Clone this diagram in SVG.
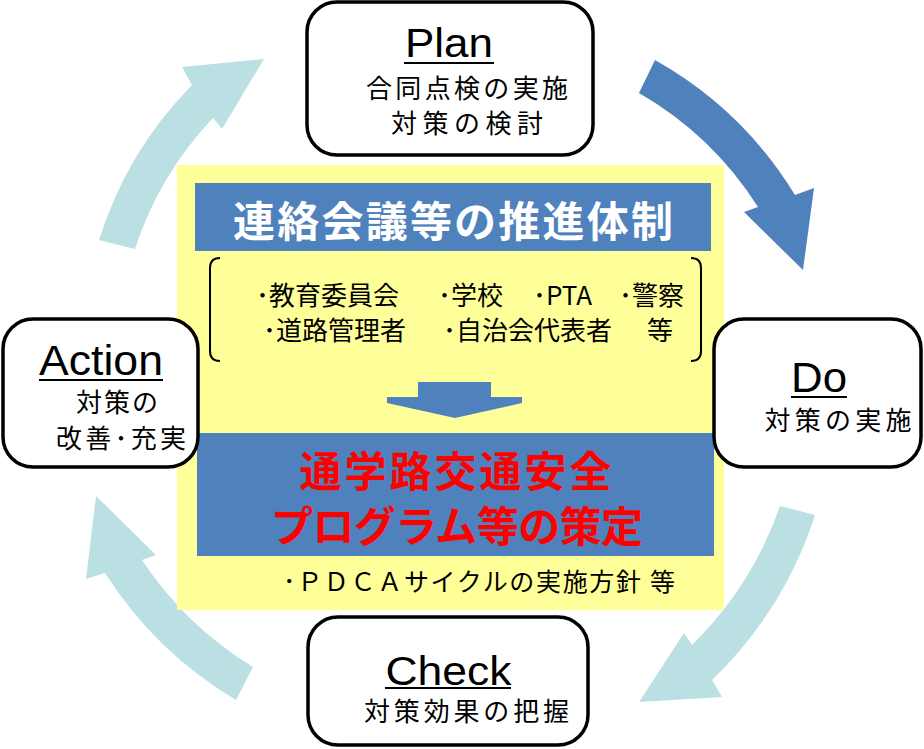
<svg xmlns="http://www.w3.org/2000/svg" width="924" height="749" viewBox="0 0 924 749">
<style>
.jp{font-family:"Noto Sans CJK JP","Noto Sans CJK SC",sans-serif;}
.en{font-family:"Liberation Sans",Arial,sans-serif;}
.box{fill:#ffffff;stroke:#000000;stroke-width:3.5;}
.ul{stroke:#000000;stroke-width:2;}
.lt{fill:#bbe0e3;}
.dk{fill:#4f81bd;}
</style>
<rect width="924" height="749" fill="#ffffff"/>
<g id="connectors">
<path class="dk" d="M655,60 A385,385 0 0 1 795,195 L814,188 L803,270 L744,212 L758,207 A345,345 0 0 0 639,93 Z"/>
<path class="lt" d="M815,515 A400,400 0 0 1 712,680 L722,697 L639,702 L684,633 L692,645 A360,360 0 0 0 780,506 Z"/>
<path class="lt" d="M236,700 A395,395 0 0 1 105,573 L86,579 L96,496 L156,555 L142,560 A355,355 0 0 0 253,667 Z"/>
<path class="lt" d="M99,240 A385,385 0 0 1 192,85 L182,67 L264,59 L222,129 L213,118 A345,345 0 0 0 135,249 Z"/>
</g>
<g id="center">
<rect x="177" y="165" width="547" height="445" fill="#ffff99"/>
<rect x="195" y="183" width="516" height="68" fill="#4f81bd"/>
<text class="jp" x="453" y="237" font-size="42" font-weight="bold" fill="#ffffff" text-anchor="middle" textLength="440">連絡会議等の推進体制</text>
<path d="M220,258 Q210,258 210,268 V351 Q210,361 220,361" fill="none" stroke="#000" stroke-width="2"/>
<path d="M691,258 Q701,258 701,268 V351 Q701,361 691,361" fill="none" stroke="#000" stroke-width="2"/>
<text class="jp" y="305" font-size="26" fill="#000"><tspan x="256">･教育委員会</tspan><tspan x="438">･学校</tspan><tspan x="533">･PTA</tspan><tspan x="619">･警察</tspan></text>
<text class="jp" y="340" font-size="26" fill="#000"><tspan x="263">･道路管理者</tspan><tspan x="443">･自治会代表者</tspan><tspan x="647">等</tspan></text>
<path class="dk" d="M418,382 H491 V397 H522 V403 L455,418 L387,403 V397 H418 Z"/>
<rect x="197" y="433" width="517" height="123" fill="#4f81bd"/>
<text class="jp" x="455.5" y="487" font-size="42" font-weight="bold" fill="#ff0000" text-anchor="middle" textLength="312">通学路交通安全</text>
<text class="jp" x="457" y="542" font-size="42" font-weight="bold" fill="#ff0000" text-anchor="middle" textLength="372">プログラム等の策定</text>
<text class="jp" x="283" y="591" font-size="25" fill="#000" textLength="392">･ＰＤＣＡサイクルの実施方針 等</text>
</g>
<g id="plan">
<rect class="box" x="307" y="2" width="286" height="153" rx="30"/>
<text class="en" x="449" y="57" font-size="41" text-anchor="middle" textLength="88" lengthAdjust="spacingAndGlyphs">Plan</text>
<line class="ul" x1="404" y1="63" x2="494" y2="63"/>
<text class="jp" x="467" y="98" font-size="26" text-anchor="middle" textLength="202">合同点検の実施</text>
<text class="jp" x="467" y="133" font-size="26" text-anchor="middle" textLength="152">対策の検討</text>
</g>
<g id="do">
<rect class="box" x="714" y="319" width="207" height="148" rx="30"/>
<text class="en" x="819" y="392" font-size="42" text-anchor="middle" textLength="56" lengthAdjust="spacingAndGlyphs">Do</text>
<line class="ul" x1="791" y1="397" x2="847" y2="397"/>
<text class="jp" x="838" y="430" font-size="26" text-anchor="middle" textLength="147">対策の実施</text>
</g>
<g id="action">
<rect class="box" x="3" y="319" width="195" height="148" rx="30"/>
<text class="en" x="101" y="375" font-size="43" text-anchor="middle" textLength="124" lengthAdjust="spacingAndGlyphs">Action</text>
<line class="ul" x1="39" y1="380" x2="163" y2="380"/>
<text class="jp" x="117" y="412" font-size="26" text-anchor="middle" textLength="82">対策の</text>
<text class="jp" x="121" y="448" font-size="26" text-anchor="middle" textLength="130">改善･充実</text>
</g>
<g id="check">
<rect class="box" x="308" y="617" width="280" height="128" rx="30"/>
<text class="en" x="448.5" y="685" font-size="40" text-anchor="middle" textLength="126" lengthAdjust="spacingAndGlyphs">Check</text>
<line class="ul" x1="385" y1="688" x2="511" y2="688"/>
<text class="jp" x="466.5" y="721" font-size="26" text-anchor="middle" textLength="205">対策効果の把握</text>
</g>
</svg>
